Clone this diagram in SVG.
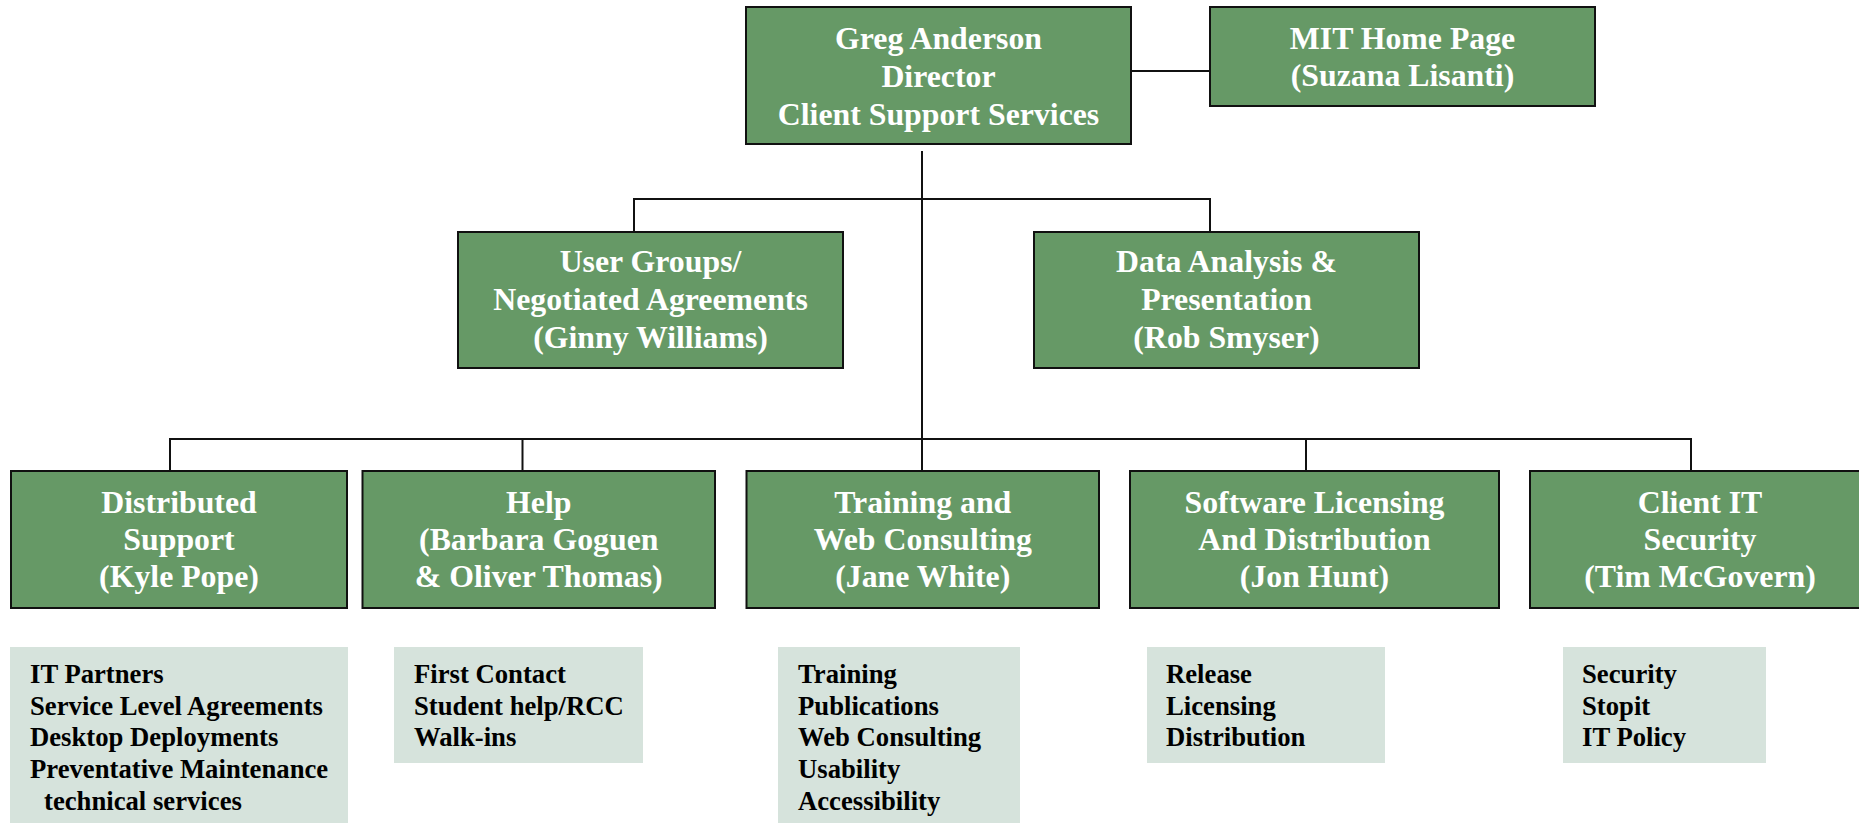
<svg xmlns="http://www.w3.org/2000/svg" width="1859" height="823" viewBox="0 0 1859 823">
  <style>
    .box { fill: #669966; stroke: #111; stroke-width: 2; }
    .list { fill: #d6e3dc; }
    .title { font-family: "Liberation Serif", "Times New Roman", serif; font-weight: bold; font-size: 31.8px; fill: #ffffff; text-anchor: middle; }
    .item { font-family: "Liberation Serif", "Times New Roman", serif; font-weight: bold; font-size: 26.7px; fill: #000000; }
    .wire { fill: none; stroke: #111; stroke-width: 2; }
  </style>

  <!-- connectors -->
  <g id="connectors">
    <line class="wire" x1="1131" y1="71" x2="1210" y2="71"/>
    <line class="wire" x1="922" y1="151" x2="922" y2="471"/>
    <polyline class="wire" points="634,232 634,199 1210,199 1210,232"/>
    <polyline class="wire" points="170,471 170,439 1691,439 1691,471"/>
    <line class="wire" x1="522.5" y1="439" x2="522.5" y2="471"/>
    <line class="wire" x1="1306" y1="439" x2="1306" y2="471"/>
  </g>

  <!-- top level -->
  <g id="director">
    <rect class="box" x="746" y="7" width="385" height="137"/>
    <text class="title" x="938.5" y="48.5">Greg Anderson</text>
    <text class="title" x="938.5" y="86.5">Director</text>
    <text class="title" x="938.5" y="124.5">Client Support Services</text>
  </g>
  <g id="mit-home-page">
    <rect class="box" x="1210" y="7" width="385" height="99"/>
    <text class="title" x="1402.5" y="48.5">MIT Home Page</text>
    <text class="title" x="1402.5" y="86">(Suzana Lisanti)</text>
  </g>

  <!-- staff units -->
  <g id="user-groups">
    <rect class="box" x="458" y="232" width="385" height="136"/>
    <text class="title" x="650.5" y="272">User Groups/</text>
    <text class="title" x="650.5" y="310">Negotiated Agreements</text>
    <text class="title" x="650.5" y="348">(Ginny Williams)</text>
  </g>
  <g id="data-analysis">
    <rect class="box" x="1034" y="232" width="385" height="136"/>
    <text class="title" x="1226.5" y="272">Data Analysis &amp;</text>
    <text class="title" x="1226.5" y="310">Presentation</text>
    <text class="title" x="1226.5" y="348">(Rob Smyser)</text>
  </g>

  <!-- teams -->
  <g id="distributed-support">
    <rect class="box" x="11" y="471" width="336" height="137"/>
    <text class="title" x="179" y="513">Distributed</text>
    <text class="title" x="179" y="550">Support</text>
    <text class="title" x="179" y="587">(Kyle Pope)</text>
  </g>
  <g id="help">
    <rect class="box" x="362.5" y="471" width="352.5" height="137"/>
    <text class="title" x="538.75" y="513">Help</text>
    <text class="title" x="538.75" y="550">(Barbara Goguen</text>
    <text class="title" x="538.75" y="587">&amp; Oliver Thomas)</text>
  </g>
  <g id="training">
    <rect class="box" x="746.5" y="471" width="352.5" height="137"/>
    <text class="title" x="922.75" y="513">Training and</text>
    <text class="title" x="922.75" y="550">Web Consulting</text>
    <text class="title" x="922.75" y="587">(Jane White)</text>
  </g>
  <g id="software-licensing">
    <rect class="box" x="1130" y="471" width="369" height="137"/>
    <text class="title" x="1314.5" y="513">Software Licensing</text>
    <text class="title" x="1314.5" y="550">And Distribution</text>
    <text class="title" x="1314.5" y="587">(Jon Hunt)</text>
  </g>
  <g id="client-it-security">
    <rect class="box" x="1530" y="471" width="340" height="137"/>
    <text class="title" x="1700" y="513">Client IT</text>
    <text class="title" x="1700" y="550">Security</text>
    <text class="title" x="1700" y="587">(Tim McGovern)</text>
  </g>

  <!-- duty lists -->
  <g id="distributed-duties">
    <rect class="list" x="10" y="647" width="338" height="180"/>
    <text class="item" x="30" y="683">IT Partners</text>
    <text class="item" x="30" y="714.7">Service Level Agreements</text>
    <text class="item" x="30" y="746.3">Desktop Deployments</text>
    <text class="item" x="30" y="778">Preventative Maintenance</text>
    <text class="item" x="44" y="809.7">technical services</text>
  </g>
  <g id="help-duties">
    <rect class="list" x="394" y="647" width="249" height="116"/>
    <text class="item" x="414" y="683">First Contact</text>
    <text class="item" x="414" y="714.7">Student help/RCC</text>
    <text class="item" x="414" y="746.3">Walk-ins</text>
  </g>
  <g id="training-duties">
    <rect class="list" x="778" y="647" width="242" height="180"/>
    <text class="item" x="798" y="683">Training</text>
    <text class="item" x="798" y="714.7">Publications</text>
    <text class="item" x="798" y="746.3">Web Consulting</text>
    <text class="item" x="798" y="778">Usability</text>
    <text class="item" x="798" y="809.7">Accessibility</text>
  </g>
  <g id="software-duties">
    <rect class="list" x="1147" y="647" width="238" height="116"/>
    <text class="item" x="1166" y="683">Release</text>
    <text class="item" x="1166" y="714.7">Licensing</text>
    <text class="item" x="1166" y="746.3">Distribution</text>
  </g>
  <g id="security-duties">
    <rect class="list" x="1563" y="647" width="203" height="116"/>
    <text class="item" x="1582" y="683">Security</text>
    <text class="item" x="1582" y="714.7">Stopit</text>
    <text class="item" x="1582" y="746.3">IT Policy</text>
  </g>
</svg>
